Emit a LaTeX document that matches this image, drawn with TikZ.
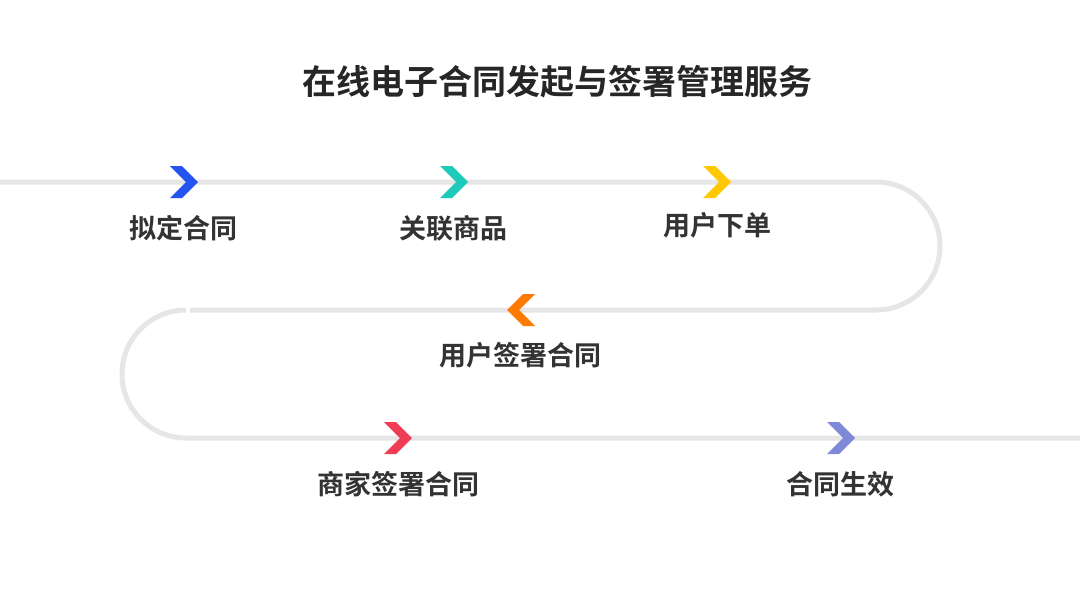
\documentclass[tikz,border=0pt]{standalone}
\usepackage{fontspec}
\setmainfont{Noto Sans CJK SC}[BoldFont={Noto Sans CJK SC Bold}]
\definecolor{trackgray}{HTML}{E6E6E6}
\definecolor{txtdark}{HTML}{333333}
\definecolor{cblue}{HTML}{2354F0}
\definecolor{cteal}{HTML}{1ECBBB}
\definecolor{cyellow}{HTML}{FFC800}
\definecolor{corange}{HTML}{FF7A00}
\definecolor{cred}{HTML}{EE3D55}
\definecolor{clav}{HTML}{8088D8}
\tikzset{
  track/.style={draw=trackgray,line width=5pt},
  lbl/.style={text=txtdark,font=\fontsize{27}{31}\selectfont\bfseries,inner sep=0pt},
  chevron/.pic={\fill (-14,-16) -- (-2,-16) -- (14,0) -- (-2,16) -- (-14,16) -- (2,0) -- cycle;}
}
\begin{document}
\begin{tikzpicture}[x=1pt,y=-1pt]
    \useasboundingbox[fill=white] (0,0) rectangle (1080,608);
    \node[text=black!85,font=\fontsize{34}{39}\selectfont\bfseries,inner sep=0pt] (title) at (557,82) {在线电子合同发起与签署管理服务};
    % track
    \draw[track] (0,182) -- (876,182) arc(-90:90:64) -- (190,310);
    \draw[track] (186,310) arc(-90:-270:64) -- (1080,438);
    % steps
    \coordinate (s1) at (184,182);
    \coordinate (s2) at (454,182);
    \coordinate (s3) at (717,182);
    \coordinate (s4) at (521,310);
    \coordinate (s5) at (398,438);
    \coordinate (s6) at (841,438);
    \pic[fill=cblue] at (s1) {chevron};
    \pic[fill=cteal] at (s2) {chevron};
    \pic[fill=cyellow] at (s3) {chevron};
    \pic[fill=corange,rotate=180] at (s4) {chevron};
    \pic[fill=cred] at (s5) {chevron};
    \pic[fill=clav] at (s6) {chevron};
    \node[lbl] (l1) at (183,228) {拟定合同};
    \node[lbl] (l2) at (453,228) {关联商品};
    \node[lbl] (l3) at (717,225) {用户下单};
    \node[lbl] (l4) at (520,355) {用户签署合同};
    \node[lbl] (l5) at (398,484) {商家签署合同};
    \node[lbl] (l6) at (840,484) {合同生效};
  \end{tikzpicture}
\end{document}
